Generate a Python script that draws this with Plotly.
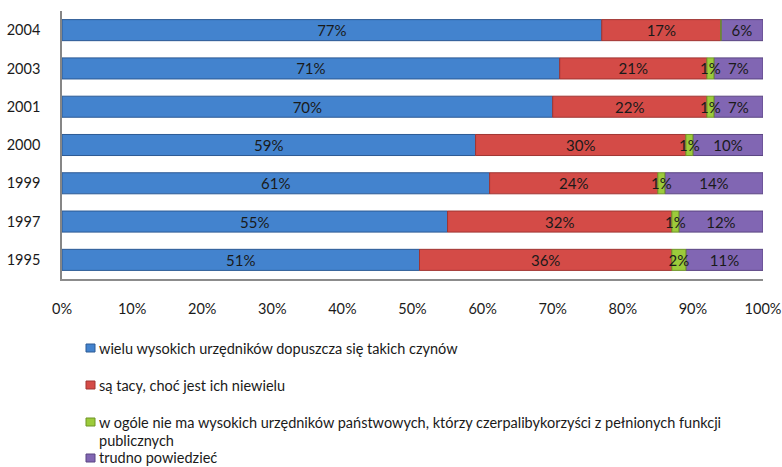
import plotly.graph_objects as go

# Survey years, top to bottom
years = ["2004", "2003", "2001", "2000", "1999", "1997", "1995"]

# Answer shares in percent, one list per answer
many_officials = [77, 71, 70, 59, 61, 55, 51]
some_but_few = [17, 21, 22, 30, 24, 32, 36]
none_at_all = [0, 1, 1, 1, 1, 1, 2]
hard_to_say = [6, 7, 7, 10, 14, 12, 11]

series_names = [
    "wielu wysokich urzędników dopuszcza się takich czynów",
    "są tacy, choć jest ich niewielu",
    "w ogóle nie ma wysokich urzędników państwowych, którzy czerpalibykorzyści z pełnionych funkcji<br>publicznych",
    "trudno powiedzieć",
]

x_ticks = [0, 10, 20, 30, 40, 50, 60, 70, 80, 90, 100]

fill_colors = ["#4383ce", "#d44b47", "#9ccb3b", "#8166b3"]
edge_colors = ["#2c5a94", "#a03532", "#6f9427", "#5a4582"]

FONT = "Lato, 'Open Sans', sans-serif"
TEXT_COLOR = "#1a1a1a"
TICK_SIZE = 14.5
LABEL_SIZE = 15
LEGEND_SIZE = 14.5

W, H = 782, 467
PLOT_L, PLOT_R, PLOT_T, PLOT_B = 62, 763, 11, 279

# Stack bases computed from the shares
base_few = list(many_officials)
base_none = [a + b for a, b in zip(many_officials, some_but_few)]
base_hard = [a + b + c for a, b, c in zip(many_officials, some_but_few, none_at_all)]

# Drawing order: the thin "none at all" segment goes last so its label sits on top
stack = [
    (many_officials, [0] * len(years), 0),
    (some_but_few, base_few, 1),
    (hard_to_say, base_hard, 3),
    (none_at_all, base_none, 2),
]

fig = go.Figure()
for vals, base, i in stack:
    fig.add_trace(go.Bar(
        y=years,
        x=vals,
        base=base,
        name=series_names[i],
        orientation="h",
        marker=dict(color=fill_colors[i], line=dict(color=edge_colors[i], width=1)),
        text=[f"{v}%" if v > 0 else "" for v in vals],
        textposition="inside",
        insidetextanchor="middle",
        textangle=0,
        constraintext="none",
        textfont=dict(family=FONT, size=LABEL_SIZE, color=TEXT_COLOR),
        cliponaxis=False,
        showlegend=False,
    ))


def px_to_paper(px, py):
    return ((px - PLOT_L) / (PLOT_R - PLOT_L), (PLOT_B - py) / (PLOT_B - PLOT_T))


# Legend drawn below the chart: small square swatch followed by the label
legend_rows = [348, 385, 422, 458]
line_step = 18
shapes = []
annotations = []
for name, fc, ec, cy in zip(series_names, fill_colors, edge_colors, legend_rows):
    x0, y0 = px_to_paper(86, cy - 4)
    x1, y1 = px_to_paper(95, cy + 4)
    shapes.append(dict(
        type="rect", xref="paper", yref="paper",
        x0=x0, x1=x1, y0=y1, y1=y0,
        fillcolor=fc, line=dict(color=ec, width=1),
    ))
    for k, line in enumerate(name.split("<br>")):
        tx, ty = px_to_paper(97, cy + k * line_step)
        annotations.append(dict(
            xref="paper", yref="paper", x=tx, y=ty,
            text=line, showarrow=False,
            xanchor="left", yanchor="middle", align="left",
            font=dict(family=FONT, size=LEGEND_SIZE, color=TEXT_COLOR),
        ))

fig.update_layout(
    width=W, height=H, autosize=False,
    barmode="overlay", bargap=0.45,
    margin=dict(l=PLOT_L, r=W - PLOT_R, t=PLOT_T, b=H - PLOT_B, pad=0),
    paper_bgcolor="white", plot_bgcolor="white",
    font=dict(family=FONT, size=TICK_SIZE, color=TEXT_COLOR),
    shapes=shapes,
    annotations=annotations,
    xaxis=dict(
        range=[0, 100],
        tickvals=x_ticks,
        ticktext=[f"{t}%" for t in x_ticks],
        showgrid=False, zeroline=False,
        showline=True, linecolor="#8c8c8c", linewidth=2,
        ticks="", ticklabelstandoff=16,
        ticklabeloverflow="allow",
        tickfont=dict(family=FONT, size=TICK_SIZE, color=TEXT_COLOR),
        automargin=False,
        fixedrange=True,
    ),
    yaxis=dict(
        type="category",
        categoryorder="array", categoryarray=years,
        autorange="reversed",
        showgrid=False, zeroline=False,
        showline=True, linecolor="#868686", linewidth=1.5,
        ticks="", ticklabelstandoff=17,
        tickfont=dict(family=FONT, size=TICK_SIZE, color=TEXT_COLOR),
        automargin=False,
        fixedrange=True,
    ),
)

fig.write_html("out.html")
